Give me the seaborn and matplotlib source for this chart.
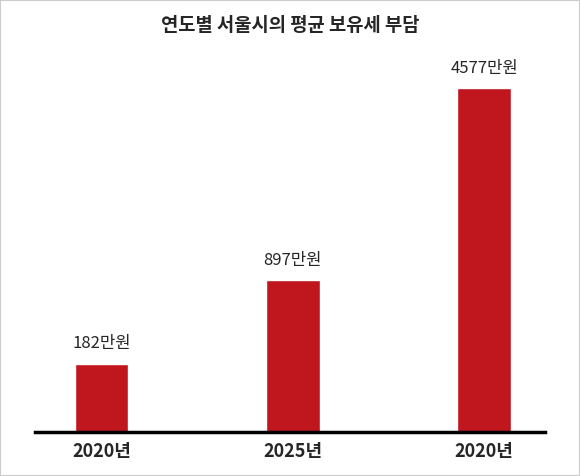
import matplotlib
matplotlib.use("Agg")
import matplotlib.pyplot as plt
import seaborn as sns
import numpy as np
import pandas as pd

keys = ["a", "b", "c"]
tick_labels = ["2020년", "2025년", "2020년"]
values = [182, 897, 4577]
value_labels = ["182만원", "897만원", "4577만원"]

sns.set_style("white")
plt.rcParams['font.family'] = ['Noto Sans CJK KR', 'DejaVu Sans']

fig = plt.figure(figsize=(5.8, 4.76), dpi=100)
ax = fig.add_axes([0.06, 0.092, 0.88, 0.792])
df = pd.DataFrame({"k": keys, "v": values})
sns.barplot(data=df, x="k", y="v", color="#C0161E", width=0.28, saturation=1, ax=ax)
ax.set_yscale('function', functions=(np.sqrt, np.square))
ax.set_ylim(0, 5494)
ax.set_xlim(-0.35, 2.32)
for i, (v, t) in enumerate(zip(values, value_labels)):
    ax.annotate(t, (i, v), xytext=(0, 8), textcoords="offset points",
                ha="center", va="bottom", fontsize=12)
ax.set_xticks(range(3))
ax.set_xticklabels(tick_labels, fontsize=13, fontweight="bold")
ax.set_yticks([])
ax.set_xlabel(""); ax.set_ylabel("")
for s in ["top", "right", "left"]:
    ax.spines[s].set_visible(False)
ax.spines["bottom"].set_linewidth(2.5)
ax.spines["bottom"].set_color("black")
ax.tick_params(axis="x", length=0, pad=7)
fig.text(0.5, 0.947, "연도별 서울시의 평균 보유세 부담", ha="center", va="center",
         fontsize=13.5, fontweight="bold")
fig.patches.append(plt.Rectangle((0, 0), 1, 1, transform=fig.transFigure,
                                 fill=False, edgecolor="#cccccc", linewidth=1.5))
fig.savefig("out.png", dpi=100)
